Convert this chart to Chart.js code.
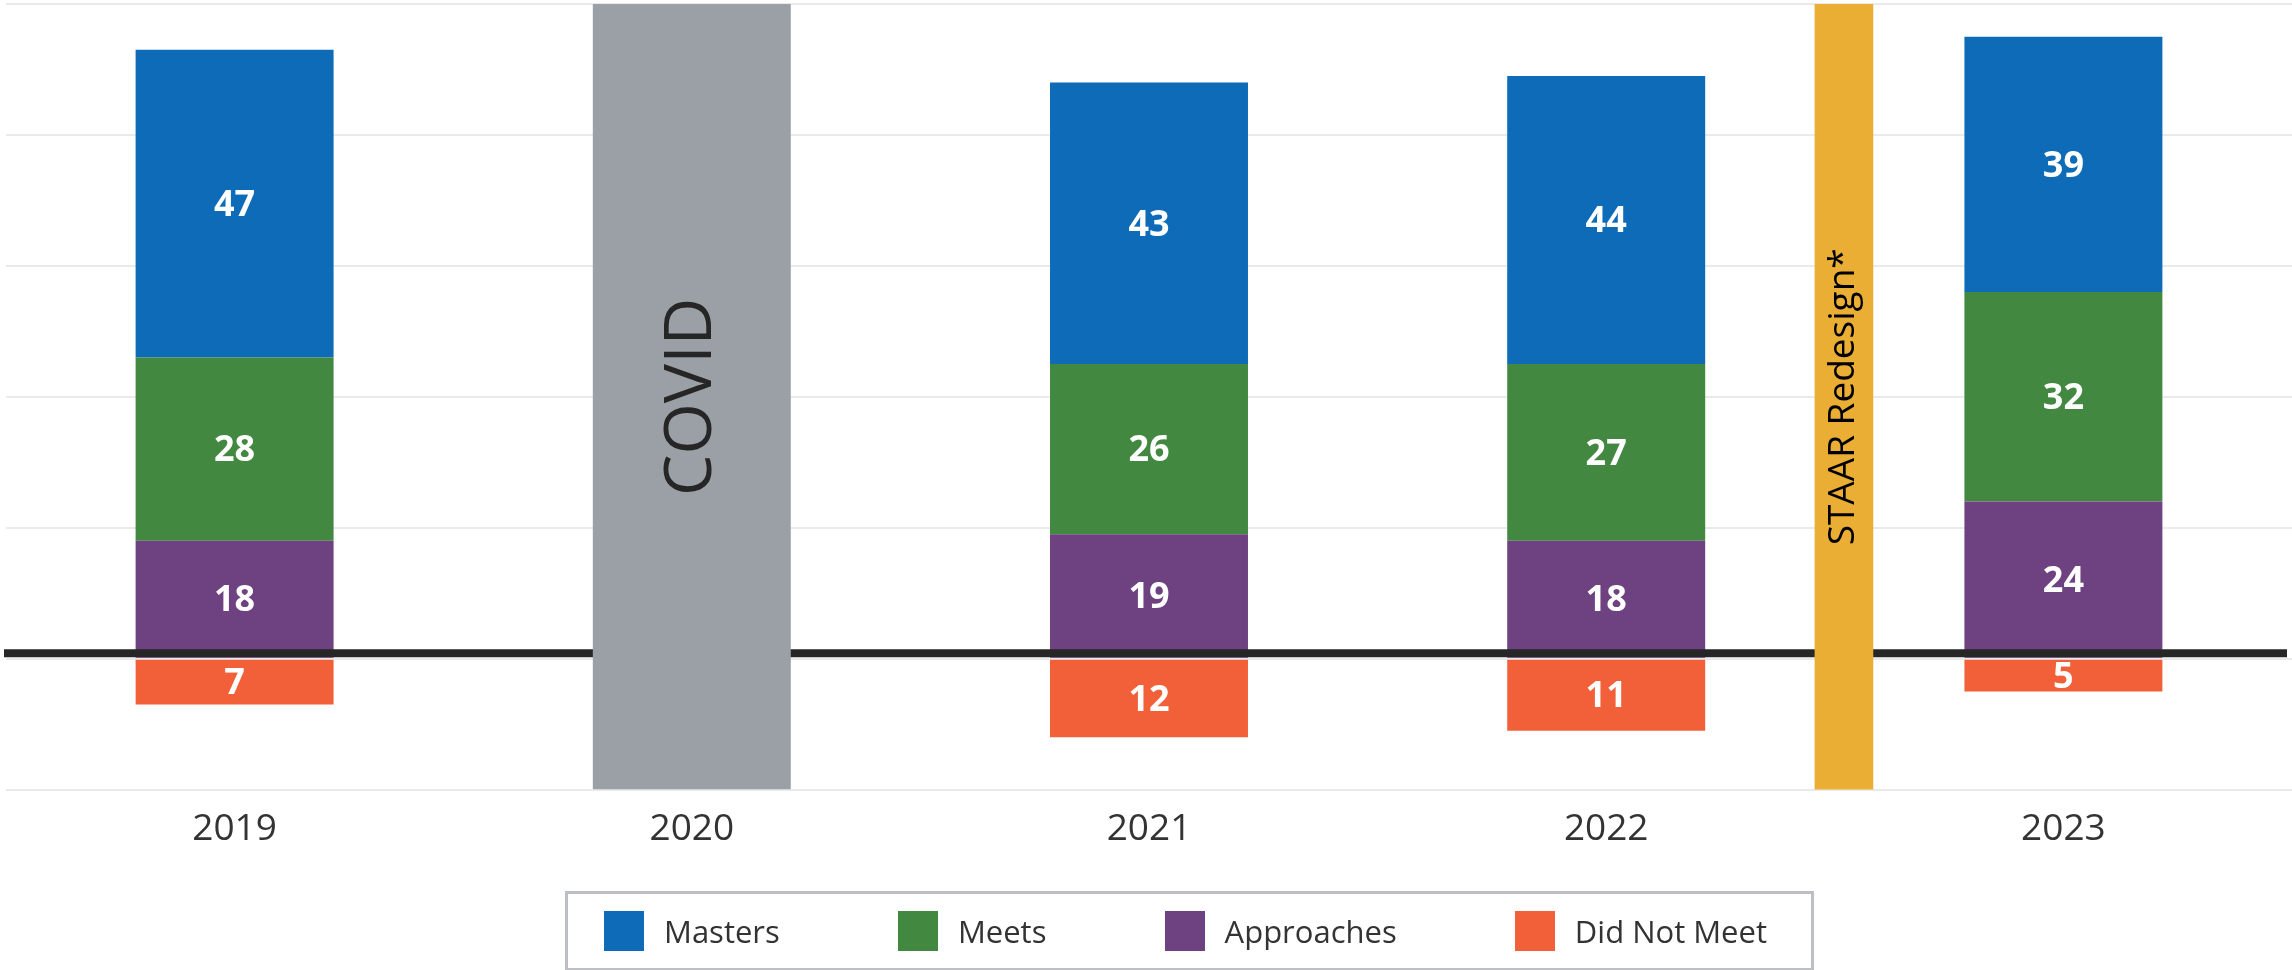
<!DOCTYPE html>
<html>
<head>
<meta charset="utf-8">
<script src="https://cdn.jsdelivr.net/npm/chart.js@4.4.1/dist/chart.umd.min.js"></script>
<style>
  body { margin: 0; background: #fff; }
  #wrap { position: relative; width: 2292px; height: 970px; }
  #legend {
    position: absolute; left: 565px; top: 891px; width: 1249px; height: 80px;
    box-sizing: border-box; border: 3px solid #BCC0C4;
    display: flex; align-items: center; justify-content: space-between;
    padding: 0 44px 0 36px;
    font-family: 'Open Sans', sans-serif; font-size: 31px; color: #333;
  }
  .item { display: flex; align-items: center; }
  .sw { width: 40px; height: 40px; margin-right: 20px; }
</style>
</head>
<body>
<div id="wrap">
  <canvas id="myChart"></canvas>
  <div id="legend"></div>
</div>
<script>
// данные
const years = ['2019', '2020', '2021', '2022', '2023'];
const masters = [47, null, 43, 44, 39];
const meets = [28, null, 26, 27, 32];
const approaches = [18, null, 19, 18, 24];
const didNotMeet = [7, null, 12, 11, 5];   // рисуется вниз от нуля

const seriesNames = ['Masters', 'Meets', 'Approaches', 'Did Not Meet'];
const seriesColours = ['#0E6BB7', '#428840', '#6E4180', '#F2603A'];

const covidYear = '2020';
const redesignAfter = '2022';   // полоса STAAR между 2022 и 2023
const bandRange = [-20, 100];

const ctx = document.getElementById('myChart').getContext('2d');

const barPct = 0.433;

// порядок стека снизу вверх
const stacked = [
  { label: 'Approaches', data: approaches, backgroundColor: seriesColours[2] },
  { label: 'Meets', data: meets, backgroundColor: seriesColours[1] },
  { label: 'Masters', data: masters, backgroundColor: seriesColours[0] },
  { label: 'Did Not Meet', data: didNotMeet.map(v => v == null ? null : -v), backgroundColor: seriesColours[3] },
].map(ds => ({ ...ds, order: 2, barPercentage: barPct, categoryPercentage: 1 }));

const covidSet = {
  label: 'COVID',
  bandText: 'COVID',
  bandFont: '66px "Open Sans"',
  bandColour: '#262626',
  data: years.map(y => y === covidYear ? bandRange : null),
  backgroundColor: '#9AA0A6',
  order: 1,
  barPercentage: barPct,
  categoryPercentage: 1,
};

const redesignSet = {
  label: 'STAAR Redesign*',
  bandText: 'STAAR Redesign*',
  bandFont: '37px "Open Sans"',
  bandColour: '#000',
  xAxisID: 'xr',
  data: [{ x: years.indexOf(redesignAfter) + 0.52, y: bandRange }],
  backgroundColor: '#EBAE34',
  order: 1,
  barPercentage: 1,
  categoryPercentage: 1,
  maxBarThickness: 58,
};

let zeroDone = false;

// толстая линия нуля: поверх столбцов, но под серой и жёлтой полосой
const zeroLine = {
  id: 'zeroLine',
  beforeDatasetsDraw() { zeroDone = false; },
  beforeDatasetDraw(chart, args) {
    const ds = chart.data.datasets[args.index];
    if (!ds.bandText || zeroDone) return;
    zeroDone = true;
    const { ctx, chartArea } = chart;
    const y0 = chart.scales.y.getPixelForValue(0) - 5.5;
    ctx.save();
    ctx.strokeStyle = '#262626';
    ctx.lineWidth = 8;
    ctx.beginPath();
    ctx.moveTo(chartArea.left - 2, y0);
    ctx.lineTo(chartArea.right - 5, y0);
    ctx.stroke();
    ctx.restore();
  }
};

const barLabels = {
  id: 'barLabels',
  afterDatasetsDraw(chart) {
    const c = chart.ctx;
    chart.data.datasets.forEach((ds, i) => {
      const meta = chart.getDatasetMeta(i);
      meta.data.forEach((bar, j) => {
        const raw = ds.data[j];
        if (raw == null) return;
        const { x, y, base } = bar.getProps(['x', 'y', 'base'], true);
        const cy = (y + base) / 2;
        c.save();
        c.textAlign = 'center';
        c.textBaseline = 'middle';
        if (ds.bandText) {
          c.translate(x, cy);
          c.rotate(-Math.PI / 2);
          c.font = ds.bandFont;
          c.fillStyle = ds.bandColour;
          c.fillText(ds.bandText, 0, 0);
        } else {
          c.font = 'bold 36px "Open Sans"';
          c.fillStyle = '#fff';
          c.fillText(Math.abs(raw), x, cy + 2);
        }
        c.restore();
      });
    });
  }
};

new Chart(ctx, {
  type: 'bar',
  data: {
    labels: years,
    datasets: [...stacked, covidSet, redesignSet],
  },
  options: {
    responsive: true,
    maintainAspectRatio: false,
    animation: false,
    layout: { padding: { left: 6, right: 0, top: 4, bottom: 100 } },
    datasets: { bar: { grouped: false } },
    plugins: {
      legend: { display: false },
      tooltip: { enabled: false },
    },
    scales: {
      x: {
        stacked: true,
        grid: { display: false, drawTicks: false },
        border: { display: false },
        ticks: {
          padding: 18,
          color: '#333',
          font: { family: 'Open Sans', size: 37 },
        },
      },
      xr: {
        type: 'linear',
        display: false,
        offset: false,
        min: -0.5,
        max: years.length - 0.5,
      },
      y: {
        stacked: true,
        min: -20,
        max: 100,
        ticks: { display: false, stepSize: 20 },
        grid: { color: '#EAEAEA', lineWidth: 2, drawTicks: false },
        border: { display: false },
      },
    },
  },
  plugins: [zeroLine, barLabels],
});

// легенда
const legend = document.getElementById('legend');
legend.innerHTML = seriesNames.map((name, i) => `
  <div class="item"><div class="sw" style="background:${seriesColours[i]}"></div><span>${name}</span></div>
`).join('');
</script>
</body>
</html>
